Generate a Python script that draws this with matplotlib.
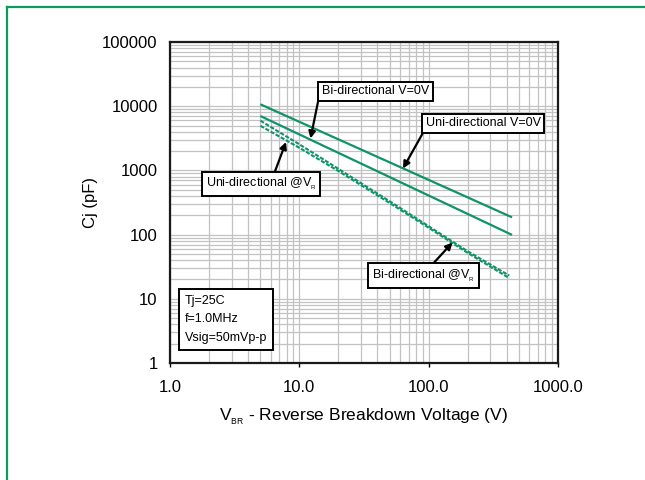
import matplotlib
matplotlib.use("Agg")
import matplotlib.pyplot as plt
from matplotlib.lines import Line2D
from matplotlib.ticker import LogLocator, FixedLocator, FixedFormatter, NullFormatter

plt.rcParams["font.family"] = ["Liberation Sans", "DejaVu Sans"]

# ─── Data ───────────────────────────────────────────────────────────────────

GREEN = "#10936a"

vbr_solid = [5.0, 441.0]
uni_v0 = [10700, 186]          # Uni-directional V=0V
bi_v0 = [7030, 99]             # Bi-directional V=0V

vbr_dash = [5.0, 10.0, 20.0, 50.0, 100.0, 200.0, 420.0]
uni_vr = [5950, 2550, 1060, 330, 135, 55, 23]   # Uni-directional @VR
bi_vr = [4950, 2250, 980, 310, 128, 52, 21]     # Bi-directional @VR

x_ticks = [1, 10, 100, 1000]
x_labels = ["1.0", "10.0", "100.0", "1000.0"]
y_ticks = [1, 10, 100, 1000, 10000, 100000]
y_labels = ["1", "10", "100", "1000", "10000", "100000"]

# ─── Figure ─────────────────────────────────────────────────────────────────

fig = plt.figure(figsize=(6.45, 4.8), dpi=100)
ax = fig.add_axes([170 / 645, 1 - 363 / 480, 388 / 645, 321 / 480])

ax.set_xscale("log")
ax.set_yscale("log")
ax.set_xlim(1, 1000)
ax.set_ylim(1, 100000)

ax.plot(vbr_solid, uni_v0, color=GREEN, lw=1.6, solid_capstyle="butt", zorder=3)
ax.plot(vbr_solid, bi_v0, color=GREEN, lw=1.6, solid_capstyle="butt", zorder=3)
ax.plot(vbr_dash, uni_vr, color=GREEN, lw=1.5, ls=(0, (2.0, 0.8)), zorder=3)
ax.plot(vbr_dash, bi_vr, color=GREEN, lw=1.5, ls=(0, (2.0, 0.8)), zorder=3)

# grid
ax.xaxis.set_major_locator(FixedLocator(x_ticks))
ax.xaxis.set_major_formatter(FixedFormatter(x_labels))
ax.yaxis.set_major_locator(FixedLocator(y_ticks))
ax.yaxis.set_major_formatter(FixedFormatter(y_labels))
ax.xaxis.set_minor_locator(LogLocator(base=10, subs=range(2, 10), numticks=20))
ax.yaxis.set_minor_locator(LogLocator(base=10, subs=range(2, 10), numticks=20))
ax.xaxis.set_minor_formatter(NullFormatter())
ax.yaxis.set_minor_formatter(NullFormatter())
ax.grid(which="both", color="#c2c2c2", lw=0.9)
ax.set_axisbelow(True)

for s in ax.spines.values():
    s.set_linewidth(1.6)
    s.set_color("#1a1a1a")

ax.tick_params(axis="x", which="major", length=3, width=1, pad=9, labelsize=12)
ax.tick_params(axis="y", which="major", length=0, pad=9, labelsize=12)
ax.tick_params(which="minor", length=0)

ax.set_ylabel("Cj (pF)", fontsize=12, labelpad=3)
ax.set_xlabel(r"V$_{\mathregular{_{BR}}}$ - Reverse Breakdown Voltage (V)", fontsize=12.5, labelpad=8)

# ─── Annotations ────────────────────────────────────────────────────────────

box = dict(boxstyle="square,pad=0.3", fc="white", ec="black", lw=1.4)
arrow = dict(arrowstyle="-|>", color="black", lw=1.6, mutation_scale=10, shrinkA=0, shrinkB=0)


def px(x, y):
    """pixel position in the 645x480 picture -> figure fraction"""
    return (x / 645, 1 - y / 480)


def label(text, box_xy, tail, head, ha="left"):
    ax.annotate("", xy=px(*head), xycoords="figure fraction",
                xytext=px(*tail), textcoords="figure fraction",
                arrowprops=arrow, zorder=5)
    fig.text(*px(*box_xy), text, fontsize=9, ha=ha, va="center", bbox=box, zorder=6)


label("Bi-directional V=0V", (322, 91.5), (319, 97), (310.5, 138.5))
label("Uni-directional V=0V", (425.5, 123.5), (424, 131), (403, 168.5))
label(r"Uni-directional @V$_{\mathregular{_R}}$", (206, 184), (274, 174), (286, 142))
label(r"Bi-directional @V$_{\mathregular{_R}}$", (372, 275.5), (430, 267), (452.5, 242.5))

fig.text(*px(185, 319.5), "Tj=25C\nf=1.0MHz\nVsig=50mVp-p", fontsize=9, ha="left", va="center",
         linespacing=1.75,
         bbox=dict(boxstyle="square,pad=0.45", fc="white", ec="black", lw=1.4))

# green frame (top and left edges only visible)
fig.add_artist(Line2D([6.7 / 645, 6.7 / 645], [0, 1 - 6.5 / 480], color="#0d9a5e", lw=1.6,
                      transform=fig.transFigure))
fig.add_artist(Line2D([6.7 / 645, 1], [1 - 6.5 / 480, 1 - 6.5 / 480], color="#0d9a5e", lw=1.6,
                      transform=fig.transFigure))

fig.savefig("out.png", dpi=100)
